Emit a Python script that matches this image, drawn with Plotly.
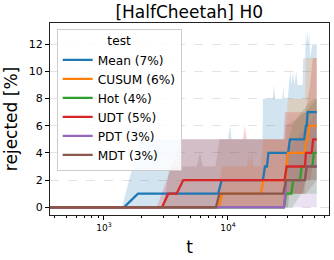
import numpy as np
import plotly.graph_objects as go

# ---------------- data ----------------
series_names = ["Mean (7%)", "CUSUM (6%)", "Hot (4%)", "UDT (5%)", "PDT (3%)", "MDT (3%)"]
series_colors = ["#1f77b4", "#ff7f0e", "#2ca02c", "#d62728", "#9467bd", "#8c564b"]

# mean lines (step t, rejected %)
mean_t = [350, 1450, 1880, 8350, 8890, 19150, 19880, 20640, 21220, 30630, 31620, 41210, 42550, 43130, 43950, 52000]
mean_v = [0, 0, 1, 1, 2, 2, 3, 3, 4, 4, 5, 5, 6, 6, 7, 7]

cusum_t = [350, 8450, 8960, 18450, 19280, 29000, 29740, 30460, 41770, 43130, 43950, 45300, 52000]
cusum_v = [0, 0, 1, 1, 2, 2, 3, 4, 4, 5, 5, 6, 6]

hot_t = [350, 28300, 29380, 32500, 33600, 38080, 39300, 48000, 49300, 52000]
hot_v = [0, 0, 1, 1, 2, 2, 3, 3, 4, 4]

udt_t = [350, 2940, 3300, 3855, 4360, 28600, 29740, 41770, 42550, 47310, 48700, 52000]
udt_v = [0, 0, 1, 1, 2, 2, 3, 3, 4, 4, 5, 5]

pdt_t = [350, 28300, 29000, 29380, 41770, 43130, 52000]
pdt_v = [0, 0, 1, 2, 2, 3, 3]

mdt_t = [350, 8000, 8540, 27940, 29380, 41770, 43130, 52000]
mdt_v = [0, 0, 1, 1, 2, 2, 3, 3]

# confidence bands (t, lower, upper)
mean_band_t = [350, 1397, 1950, 10000, 10380, 10700, 19000, 19150, 23000, 23500, 24000,
               27500, 27940, 28400, 30460, 31000, 32000, 32600, 33500, 34400, 35500, 36500,
               40000, 40460, 42000, 42550, 43130, 43950, 44800, 45300, 45850, 48000, 52000]
mean_band_lo = [0, 0, 0, 0, 0, 0, 0, 0, 0, 0, 0,
                0, 0, 0, 0, 1, 1, 1, 1, 1, 1, 1,
                1, 1, 2, 2, 2, 2, 2, 2, 2, 2, 2]
mean_band_hi = [0, 0, 5, 5, 6, 5, 5, 8, 8, 9, 8,
                8, 9, 8, 8, 9, 10, 9, 10, 9, 10, 9,
                9, 11, 11, 13, 12, 13, 12, 13, 11, 12, 12]

cusum_band_t = [350, 8000, 8950, 14300, 14600, 15000, 15500, 16000, 18450, 19280, 28840, 30460,
                31620, 41770, 42550, 52000]
cusum_band_lo = [0, 0, 0, 0, 0, 0, 0, 0, 0, 0, 0, 0, 1, 1, 2, 2]
cusum_band_hi = [0, 0, 3, 3, 4, 3, 4, 3, 3, 5, 5, 8, 8, 8, 11, 11]

hot_band_t = [350, 27940, 29380, 33110, 39000, 48440, 52000]
hot_band_lo = [0, 0, 0, 0, 1, 1, 1]
hot_band_hi = [0, 0, 4, 6, 7, 8, 8]

udt_band_t = [350, 2660, 4235, 13200, 13710, 14200, 28000, 28840, 30000, 40000, 42000, 46000, 48400, 52000]
udt_band_lo = [0, 0, 0, 0, 0, 0, 0, 0, 1, 1, 2, 2, 3, 3]
udt_band_hi = [0, 0, 5, 5, 6, 5, 5, 7, 7, 7, 7, 9, 11, 11]

pdt_band_t = [350, 28300, 29380, 42550, 52000]
pdt_band_lo = [0, 0, 0, 0, 0]
pdt_band_hi = [0, 0, 4, 6, 7]

mdt_band_t = [350, 2995, 3405, 5600, 5945, 6300, 7930, 8540, 28840, 29380, 42550, 52000]
mdt_band_lo = [0, 0, 0, 0, 0, 0, 0, 0, 0, 1, 1, 2]
mdt_band_hi = [0, 0, 3, 3, 4, 3, 3, 5, 5, 6, 7, 8]

x_tick_vals = [1000, 10000]
x_tick_text = ["10<sup>3</sup>", "10<sup>4</sup>"]
y_tick_vals = [0, 2, 4, 6, 8, 10, 12]

lines = [(mean_t, mean_v), (cusum_t, cusum_v), (hot_t, hot_v),
         (udt_t, udt_v), (pdt_t, pdt_v), (mdt_t, mdt_v)]
bands = [(mean_band_t, mean_band_lo, mean_band_hi),
         (cusum_band_t, cusum_band_lo, cusum_band_hi),
         (hot_band_t, hot_band_lo, hot_band_hi),
         (udt_band_t, udt_band_lo, udt_band_hi),
         (pdt_band_t, pdt_band_lo, pdt_band_hi),
         (mdt_band_t, mdt_band_lo, mdt_band_hi)]


def rgba(hex_color, a):
    h = hex_color.lstrip("#")
    r, g, b = int(h[0:2], 16), int(h[2:4], 16), int(h[4:6], 16)
    return f"rgba({r},{g},{b},{a})"


fig = go.Figure()

# bands first
for name, color, (bt, blo, bhi) in zip(series_names, series_colors, bands):
    fig.add_trace(go.Scatter(
        x=list(bt) + list(bt)[::-1],
        y=list(bhi) + list(blo)[::-1],
        fill="toself", fillcolor=rgba(color, 0.2),
        line=dict(width=0), mode="lines", hoverinfo="skip", showlegend=False))

for name, color, (lt, lv) in zip(series_names, series_colors, lines):
    fig.add_trace(go.Scatter(
        x=lt, y=lv, mode="lines", name=name,
        line=dict(color=color, width=2.3)))

minor_vals = [k * 10 ** e for e in range(2, 5) for k in range(2, 10)]

fig.update_layout(
    width=334, height=260,
    margin=dict(l=50, r=5, t=23, b=45, autoexpand=False),
    paper_bgcolor="white", plot_bgcolor="white",
    font=dict(family="DejaVu Sans", color="black", size=11),
    title=dict(text="[HalfCheetah] H0", x=0.5665, xanchor="center",
               y=0.955, yanchor="middle", font=dict(size=17)),
    legend=dict(
        x=0.024, y=0.971, xanchor="left", yanchor="top",
        bgcolor="rgba(255,255,255,0.85)", bordercolor="#cccccc", borderwidth=1,
        font=dict(size=12.2), tracegroupgap=0, itemwidth=30,
        title=dict(text="test", side="top center", font=dict(size=12.2)),
    ),
)

fig.update_xaxes(
    type="log", range=[2.565, 4.815],
    tickvals=x_tick_vals, ticktext=x_tick_text, tickfont=dict(size=9),
    ticks="outside", ticklen=4, tickcolor="black",
    minor=dict(tickvals=minor_vals, ticks="outside", ticklen=2, tickcolor="black", showgrid=False),
    showgrid=False, showline=True, linecolor="#222222", linewidth=1, mirror=True,
    title=dict(text="t", font=dict(size=17), standoff=9),
    zeroline=False,
)
fig.update_yaxes(
    range=[-0.57, 13.57],
    tickvals=y_tick_vals, tickfont=dict(size=11),
    ticks="outside", ticklen=4, tickcolor="black",
    showgrid=True, gridcolor="#e3e3e3", griddash="dash", gridwidth=1,
    showline=True, linecolor="#222222", linewidth=1, mirror=True,
    title=dict(text="rejected [%]", font=dict(size=17), standoff=6),
    zeroline=False,
)

fig.write_html("out.html", config={"displayModeBar": False},
               post_script="document.body.style.margin='0';document.body.style.padding='0';")
